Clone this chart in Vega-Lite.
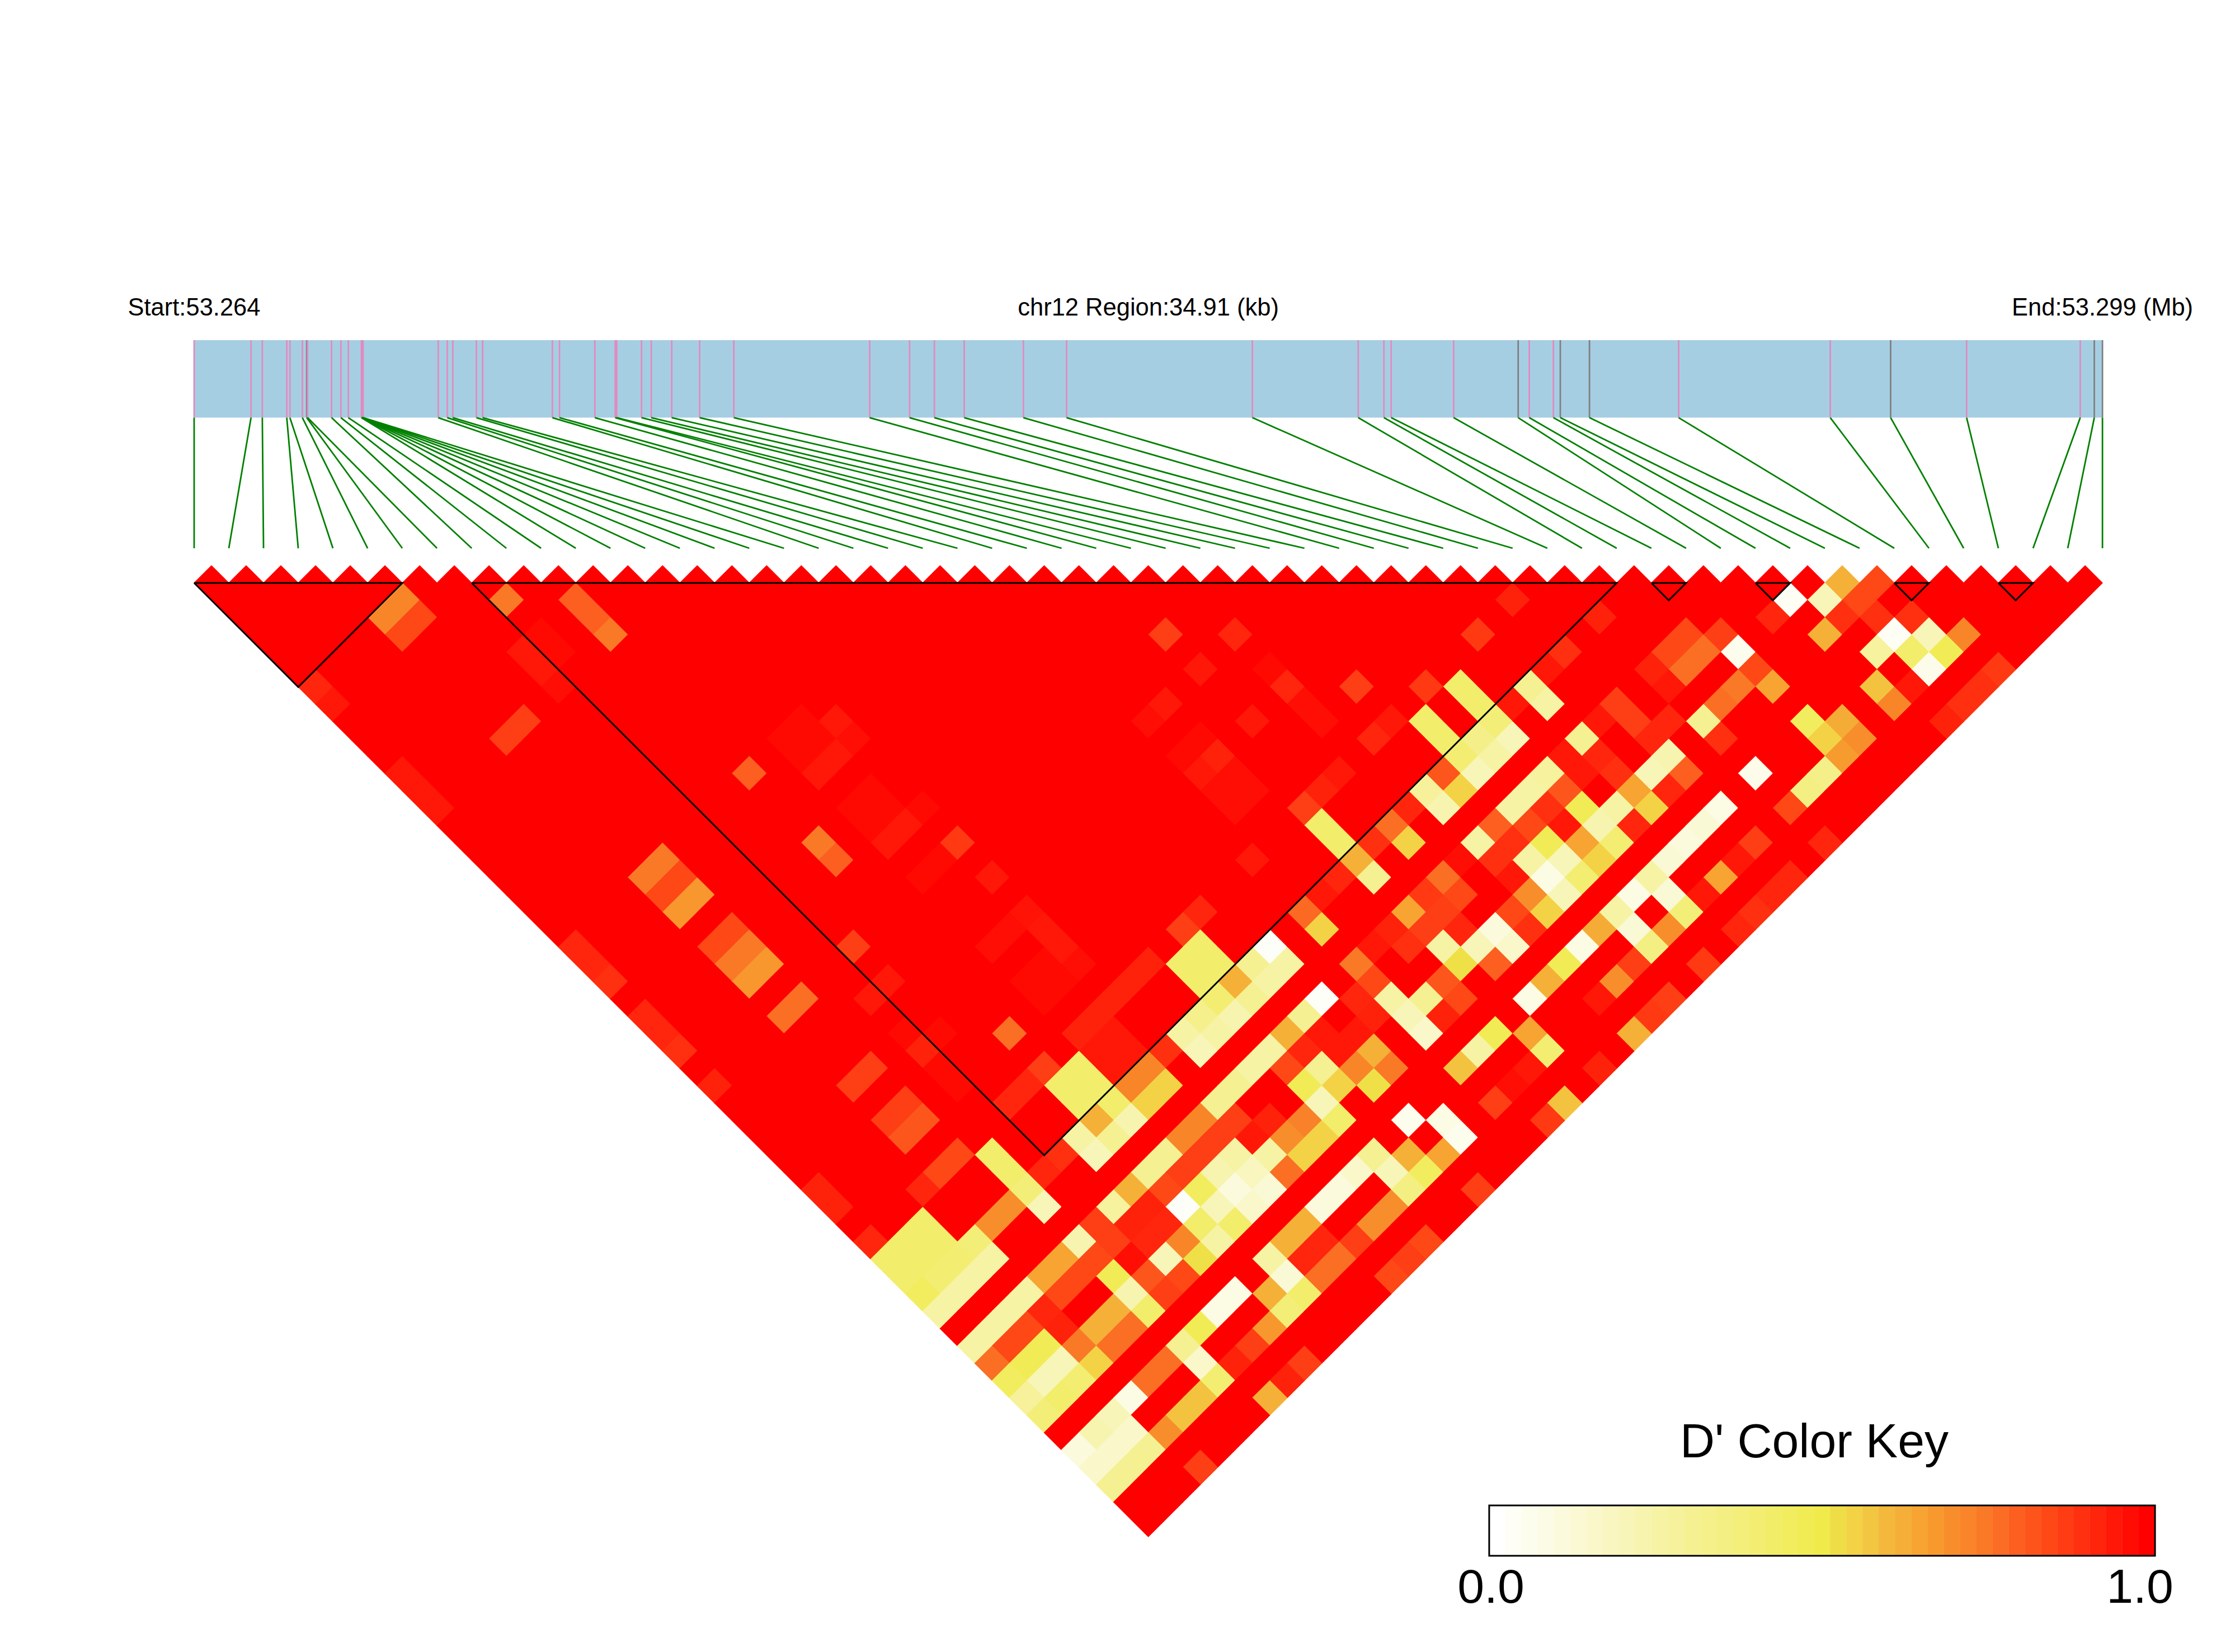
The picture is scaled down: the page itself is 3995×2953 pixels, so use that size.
{"$schema":"https://vega.github.io/schema/vega-lite/v6.json","width":3995,"height":2953,"padding":0,"autosize":{"type":"none"},"background":"white","config":{"view":{"stroke":null}},
"datasets":{"snps":[{"s":0,"p":0,"g":"p"},{"s":2,"p":3.28,"g":"p"},{"s":4,"p":3.93,"g":"p"},{"s":6,"p":5.34,"g":"p"},{"s":8,"p":5.52,"g":"p"},{"s":10,"p":6.24,"g":"p"},{"s":12,"p":6.49,"g":"g"},{"s":14,"p":6.54,"g":"p"},{"s":16,"p":7.92,"g":"p"},{"s":18,"p":8.46,"g":"p"},{"s":20,"p":8.89,"g":"p"},{"s":22,"p":9.64,"g":"p"},{"s":24,"p":9.66,"g":"p"},{"s":26,"p":9.67,"g":"p"},{"s":28,"p":9.69,"g":"p"},{"s":30,"p":9.71,"g":"p"},{"s":32,"p":9.72,"g":"p"},{"s":34,"p":9.74,"g":"p"},{"s":36,"p":14.07,"g":"p"},{"s":38,"p":14.59,"g":"p"},{"s":40,"p":14.91,"g":"p"},{"s":42,"p":16.27,"g":"p"},{"s":44,"p":16.63,"g":"p"},{"s":46,"p":20.65,"g":"p"},{"s":48,"p":21.06,"g":"p"},{"s":50,"p":23.1,"g":"p"},{"s":52,"p":24.27,"g":"p"},{"s":54,"p":24.36,"g":"p"},{"s":56,"p":25.79,"g":"p"},{"s":58,"p":26.35,"g":"p"},{"s":60,"p":27.53,"g":"p"},{"s":62,"p":29.14,"g":"p"},{"s":64,"p":31.11,"g":"p"},{"s":66,"p":38.94,"g":"p"},{"s":68,"p":41.24,"g":"p"},{"s":70,"p":42.67,"g":"p"},{"s":72,"p":44.39,"g":"p"},{"s":74,"p":47.8,"g":"p"},{"s":76,"p":50.29,"g":"p"},{"s":78,"p":61,"g":"p"},{"s":80,"p":67.1,"g":"p"},{"s":82,"p":68.58,"g":"p"},{"s":84,"p":69,"g":"p"},{"s":86,"p":72.6,"g":"p"},{"s":88,"p":76.32,"g":"g"},{"s":90,"p":76.96,"g":"p"},{"s":92,"p":78.35,"g":"p"},{"s":94,"p":78.75,"g":"g"},{"s":96,"p":80.43,"g":"g"},{"s":98,"p":85.57,"g":"p"},{"s":100,"p":94.31,"g":"p"},{"s":102,"p":97.79,"g":"g"},{"s":104,"p":102.17,"g":"p"},{"s":106,"p":108.72,"g":"p"},{"s":108,"p":109.53,"g":"g"},{"s":110,"p":110,"g":"g"}],
"cells":[
{"u":1,"k":1,"d":1},{"u":3,"k":1,"d":1},{"u":5,"k":1,"d":1},{"u":7,"k":1,"d":1},{"u":9,"k":1,"d":1},{"u":11,"k":1,"d":1},{"u":13,"k":1,"d":1},{"u":15,"k":1,"d":1},{"u":17,"k":1,"d":1},{"u":19,"k":1,"d":1},{"u":21,"k":1,"d":1},{"u":23,"k":1,"d":1},{"u":25,"k":1,"d":1},{"u":27,"k":1,"d":1},{"u":29,"k":1,"d":1},{"u":31,"k":1,"d":1},{"u":33,"k":1,"d":1},{"u":35,"k":1,"d":1},{"u":37,"k":1,"d":1},{"u":39,"k":1,"d":1},{"u":41,"k":1,"d":1},{"u":43,"k":1,"d":1},{"u":45,"k":1,"d":1},{"u":47,"k":1,"d":1},{"u":49,"k":1,"d":1},{"u":51,"k":1,"d":1},{"u":53,"k":1,"d":1},{"u":55,"k":1,"d":1},{"u":57,"k":1,"d":1},{"u":59,"k":1,"d":1},{"u":61,"k":1,"d":1},{"u":63,"k":1,"d":1},{"u":65,"k":1,"d":1},{"u":67,"k":1,"d":1},{"u":69,"k":1,"d":1},{"u":71,"k":1,"d":1},{"u":73,"k":1,"d":1},{"u":75,"k":1,"d":1},{"u":77,"k":1,"d":1},{"u":79,"k":1,"d":1},{"u":81,"k":1,"d":1},{"u":83,"k":1,"d":1},{"u":85,"k":1,"d":1},{"u":87,"k":1,"d":1},{"u":89,"k":1,"d":1},{"u":91,"k":1,"d":1},{"u":93,"k":1,"d":1},{"u":95,"k":1,"d":0.62},{"u":97,"k":1,"d":0.85},{"u":99,"k":1,"d":1},{"u":101,"k":1,"d":1},{"u":103,"k":1,"d":1},{"u":105,"k":1,"d":1},{"u":107,"k":1,"d":1},{"u":109,"k":1,"d":1},
{"u":2,"k":2,"d":1},{"u":4,"k":2,"d":1},{"u":6,"k":2,"d":1},{"u":8,"k":2,"d":1},{"u":10,"k":2,"d":1},{"u":12,"k":2,"d":0.72},{"u":14,"k":2,"d":1},{"u":16,"k":2,"d":1},{"u":18,"k":2,"d":0.75},{"u":20,"k":2,"d":1},{"u":22,"k":2,"d":0.8},{"u":24,"k":2,"d":1},{"u":26,"k":2,"d":1},{"u":28,"k":2,"d":1},{"u":30,"k":2,"d":1},{"u":32,"k":2,"d":1},{"u":34,"k":2,"d":1},{"u":36,"k":2,"d":1},{"u":38,"k":2,"d":1},{"u":40,"k":2,"d":1},{"u":42,"k":2,"d":1},{"u":44,"k":2,"d":1},{"u":46,"k":2,"d":1},{"u":48,"k":2,"d":1},{"u":50,"k":2,"d":1},{"u":52,"k":2,"d":1},{"u":54,"k":2,"d":1},{"u":56,"k":2,"d":1},{"u":58,"k":2,"d":1},{"u":60,"k":2,"d":1},{"u":62,"k":2,"d":1},{"u":64,"k":2,"d":1},{"u":66,"k":2,"d":1},{"u":68,"k":2,"d":1},{"u":70,"k":2,"d":1},{"u":72,"k":2,"d":1},{"u":74,"k":2,"d":1},{"u":76,"k":2,"d":0.93},{"u":78,"k":2,"d":1},{"u":80,"k":2,"d":1},{"u":82,"k":2,"d":1},{"u":84,"k":2,"d":1},{"u":86,"k":2,"d":1},{"u":88,"k":2,"d":1},{"u":90,"k":2,"d":1},{"u":92,"k":2,"d":0.03},{"u":94,"k":2,"d":0.2},{"u":96,"k":2,"d":0.85},{"u":98,"k":2,"d":1},{"u":100,"k":2,"d":1},{"u":102,"k":2,"d":1},{"u":104,"k":2,"d":1},{"u":106,"k":2,"d":1},{"u":108,"k":2,"d":1},
{"u":3,"k":3,"d":1},{"u":5,"k":3,"d":1},{"u":7,"k":3,"d":1},{"u":9,"k":3,"d":1},{"u":11,"k":3,"d":0.72},{"u":13,"k":3,"d":0.85},{"u":15,"k":3,"d":1},{"u":17,"k":3,"d":1},{"u":19,"k":3,"d":1},{"u":21,"k":3,"d":1},{"u":23,"k":3,"d":0.8},{"u":25,"k":3,"d":1},{"u":27,"k":3,"d":1},{"u":29,"k":3,"d":1},{"u":31,"k":3,"d":1},{"u":33,"k":3,"d":1},{"u":35,"k":3,"d":1},{"u":37,"k":3,"d":1},{"u":39,"k":3,"d":1},{"u":41,"k":3,"d":1},{"u":43,"k":3,"d":1},{"u":45,"k":3,"d":1},{"u":47,"k":3,"d":1},{"u":49,"k":3,"d":1},{"u":51,"k":3,"d":1},{"u":53,"k":3,"d":1},{"u":55,"k":3,"d":1},{"u":57,"k":3,"d":1},{"u":59,"k":3,"d":1},{"u":61,"k":3,"d":1},{"u":63,"k":3,"d":1},{"u":65,"k":3,"d":1},{"u":67,"k":3,"d":1},{"u":69,"k":3,"d":1},{"u":71,"k":3,"d":1},{"u":73,"k":3,"d":1},{"u":75,"k":3,"d":1},{"u":77,"k":3,"d":1},{"u":79,"k":3,"d":1},{"u":81,"k":3,"d":0.93},{"u":83,"k":3,"d":1},{"u":85,"k":3,"d":1},{"u":87,"k":3,"d":1},{"u":89,"k":3,"d":1},{"u":91,"k":3,"d":0.92},{"u":93,"k":3,"d":1},{"u":95,"k":3,"d":0.9},{"u":97,"k":3,"d":0.9},{"u":99,"k":3,"d":0.9},{"u":101,"k":3,"d":1},{"u":103,"k":3,"d":1},{"u":105,"k":3,"d":1},{"u":107,"k":3,"d":1},
{"u":4,"k":4,"d":1},{"u":6,"k":4,"d":1},{"u":8,"k":4,"d":1},{"u":10,"k":4,"d":1},{"u":12,"k":4,"d":0.85},{"u":14,"k":4,"d":1},{"u":16,"k":4,"d":1},{"u":18,"k":4,"d":1},{"u":20,"k":4,"d":0.98},{"u":22,"k":4,"d":1},{"u":24,"k":4,"d":0.75},{"u":26,"k":4,"d":1},{"u":28,"k":4,"d":1},{"u":30,"k":4,"d":1},{"u":32,"k":4,"d":1},{"u":34,"k":4,"d":1},{"u":36,"k":4,"d":1},{"u":38,"k":4,"d":1},{"u":40,"k":4,"d":1},{"u":42,"k":4,"d":1},{"u":44,"k":4,"d":1},{"u":46,"k":4,"d":1},{"u":48,"k":4,"d":1},{"u":50,"k":4,"d":1},{"u":52,"k":4,"d":1},{"u":54,"k":4,"d":1},{"u":56,"k":4,"d":0.87},{"u":58,"k":4,"d":1},{"u":60,"k":4,"d":0.92},{"u":62,"k":4,"d":1},{"u":64,"k":4,"d":1},{"u":66,"k":4,"d":1},{"u":68,"k":4,"d":1},{"u":70,"k":4,"d":1},{"u":72,"k":4,"d":1},{"u":74,"k":4,"d":0.88},{"u":76,"k":4,"d":1},{"u":78,"k":4,"d":1},{"u":80,"k":4,"d":1},{"u":82,"k":4,"d":1},{"u":84,"k":4,"d":1},{"u":86,"k":4,"d":0.85},{"u":88,"k":4,"d":0.87},{"u":90,"k":4,"d":1},{"u":92,"k":4,"d":1},{"u":94,"k":4,"d":0.62},{"u":96,"k":4,"d":1},{"u":98,"k":4,"d":0.03},{"u":100,"k":4,"d":0.2},{"u":102,"k":4,"d":0.72},{"u":104,"k":4,"d":1},{"u":106,"k":4,"d":1},
{"u":5,"k":5,"d":1},{"u":7,"k":5,"d":1},{"u":9,"k":5,"d":1},{"u":11,"k":5,"d":1},{"u":13,"k":5,"d":1},{"u":15,"k":5,"d":1},{"u":17,"k":5,"d":1},{"u":19,"k":5,"d":0.95},{"u":21,"k":5,"d":0.98},{"u":23,"k":5,"d":1},{"u":25,"k":5,"d":1},{"u":27,"k":5,"d":1},{"u":29,"k":5,"d":1},{"u":31,"k":5,"d":1},{"u":33,"k":5,"d":1},{"u":35,"k":5,"d":1},{"u":37,"k":5,"d":1},{"u":39,"k":5,"d":1},{"u":41,"k":5,"d":1},{"u":43,"k":5,"d":1},{"u":45,"k":5,"d":1},{"u":47,"k":5,"d":1},{"u":49,"k":5,"d":1},{"u":51,"k":5,"d":1},{"u":53,"k":5,"d":1},{"u":55,"k":5,"d":1},{"u":57,"k":5,"d":1},{"u":59,"k":5,"d":1},{"u":61,"k":5,"d":1},{"u":63,"k":5,"d":1},{"u":65,"k":5,"d":1},{"u":67,"k":5,"d":1},{"u":69,"k":5,"d":1},{"u":71,"k":5,"d":1},{"u":73,"k":5,"d":1},{"u":75,"k":5,"d":1},{"u":77,"k":5,"d":1},{"u":79,"k":5,"d":0.9},{"u":81,"k":5,"d":1},{"u":83,"k":5,"d":1},{"u":85,"k":5,"d":0.85},{"u":87,"k":5,"d":0.77},{"u":89,"k":5,"d":0.05},{"u":91,"k":5,"d":1},{"u":93,"k":5,"d":1},{"u":95,"k":5,"d":1},{"u":97,"k":5,"d":0.27},{"u":99,"k":5,"d":0.42},{"u":101,"k":5,"d":0.47},{"u":103,"k":5,"d":1},{"u":105,"k":5,"d":1},
{"u":6,"k":6,"d":1},{"u":8,"k":6,"d":1},{"u":10,"k":6,"d":1},{"u":12,"k":6,"d":1},{"u":14,"k":6,"d":1},{"u":16,"k":6,"d":1},{"u":18,"k":6,"d":1},{"u":20,"k":6,"d":0.95},{"u":22,"k":6,"d":1},{"u":24,"k":6,"d":1},{"u":26,"k":6,"d":1},{"u":28,"k":6,"d":1},{"u":30,"k":6,"d":1},{"u":32,"k":6,"d":1},{"u":34,"k":6,"d":1},{"u":36,"k":6,"d":1},{"u":38,"k":6,"d":1},{"u":40,"k":6,"d":1},{"u":42,"k":6,"d":1},{"u":44,"k":6,"d":1},{"u":46,"k":6,"d":1},{"u":48,"k":6,"d":1},{"u":50,"k":6,"d":1},{"u":52,"k":6,"d":1},{"u":54,"k":6,"d":1},{"u":56,"k":6,"d":1},{"u":58,"k":6,"d":0.95},{"u":60,"k":6,"d":1},{"u":62,"k":6,"d":0.98},{"u":64,"k":6,"d":1},{"u":66,"k":6,"d":1},{"u":68,"k":6,"d":1},{"u":70,"k":6,"d":1},{"u":72,"k":6,"d":1},{"u":74,"k":6,"d":1},{"u":76,"k":6,"d":1},{"u":78,"k":6,"d":0.95},{"u":80,"k":6,"d":1},{"u":82,"k":6,"d":1},{"u":84,"k":6,"d":0.93},{"u":86,"k":6,"d":0.77},{"u":88,"k":6,"d":1},{"u":90,"k":6,"d":0.85},{"u":92,"k":6,"d":1},{"u":94,"k":6,"d":1},{"u":96,"k":6,"d":1},{"u":98,"k":6,"d":1},{"u":100,"k":6,"d":0.06},{"u":102,"k":6,"d":1},{"u":104,"k":6,"d":0.88},
{"u":7,"k":7,"d":0.92},{"u":9,"k":7,"d":1},{"u":11,"k":7,"d":1},{"u":13,"k":7,"d":1},{"u":15,"k":7,"d":1},{"u":17,"k":7,"d":1},{"u":19,"k":7,"d":1},{"u":21,"k":7,"d":0.97},{"u":23,"k":7,"d":1},{"u":25,"k":7,"d":1},{"u":27,"k":7,"d":1},{"u":29,"k":7,"d":1},{"u":31,"k":7,"d":1},{"u":33,"k":7,"d":1},{"u":35,"k":7,"d":1},{"u":37,"k":7,"d":1},{"u":39,"k":7,"d":1},{"u":41,"k":7,"d":1},{"u":43,"k":7,"d":1},{"u":45,"k":7,"d":1},{"u":47,"k":7,"d":1},{"u":49,"k":7,"d":1},{"u":51,"k":7,"d":1},{"u":53,"k":7,"d":1},{"u":55,"k":7,"d":1},{"u":57,"k":7,"d":1},{"u":59,"k":7,"d":1},{"u":61,"k":7,"d":1},{"u":63,"k":7,"d":0.92},{"u":65,"k":7,"d":1},{"u":67,"k":7,"d":0.87},{"u":69,"k":7,"d":1},{"u":71,"k":7,"d":0.88},{"u":73,"k":7,"d":0.42},{"u":75,"k":7,"d":1},{"u":77,"k":7,"d":0.3},{"u":79,"k":7,"d":1},{"u":81,"k":7,"d":1},{"u":83,"k":7,"d":1},{"u":85,"k":7,"d":0.95},{"u":87,"k":7,"d":1},{"u":89,"k":7,"d":0.75},{"u":91,"k":7,"d":0.65},{"u":93,"k":7,"d":1},{"u":95,"k":7,"d":1},{"u":97,"k":7,"d":0.58},{"u":99,"k":7,"d":0.95},{"u":101,"k":7,"d":1},{"u":103,"k":7,"d":0.9},
{"u":8,"k":8,"d":0.95},{"u":10,"k":8,"d":1},{"u":12,"k":8,"d":1},{"u":14,"k":8,"d":1},{"u":16,"k":8,"d":1},{"u":18,"k":8,"d":1},{"u":20,"k":8,"d":1},{"u":22,"k":8,"d":1},{"u":24,"k":8,"d":1},{"u":26,"k":8,"d":1},{"u":28,"k":8,"d":1},{"u":30,"k":8,"d":1},{"u":32,"k":8,"d":1},{"u":34,"k":8,"d":1},{"u":36,"k":8,"d":1},{"u":38,"k":8,"d":1},{"u":40,"k":8,"d":1},{"u":42,"k":8,"d":1},{"u":44,"k":8,"d":1},{"u":46,"k":8,"d":1},{"u":48,"k":8,"d":1},{"u":50,"k":8,"d":1},{"u":52,"k":8,"d":1},{"u":54,"k":8,"d":1},{"u":56,"k":8,"d":0.95},{"u":58,"k":8,"d":1},{"u":60,"k":8,"d":1},{"u":62,"k":8,"d":1},{"u":64,"k":8,"d":0.97},{"u":66,"k":8,"d":1},{"u":68,"k":8,"d":1},{"u":70,"k":8,"d":1},{"u":72,"k":8,"d":1},{"u":74,"k":8,"d":0.42},{"u":76,"k":8,"d":0.95},{"u":78,"k":8,"d":0.25},{"u":80,"k":8,"d":1},{"u":82,"k":8,"d":0.87},{"u":84,"k":8,"d":1},{"u":86,"k":8,"d":1},{"u":88,"k":8,"d":0.77},{"u":90,"k":8,"d":1},{"u":92,"k":8,"d":1},{"u":94,"k":8,"d":1},{"u":96,"k":8,"d":1},{"u":98,"k":8,"d":0.72},{"u":100,"k":8,"d":1},{"u":102,"k":8,"d":0.9},
{"u":9,"k":9,"d":1},{"u":11,"k":9,"d":1},{"u":13,"k":9,"d":1},{"u":15,"k":9,"d":1},{"u":17,"k":9,"d":1},{"u":19,"k":9,"d":0.87},{"u":21,"k":9,"d":1},{"u":23,"k":9,"d":1},{"u":25,"k":9,"d":1},{"u":27,"k":9,"d":1},{"u":29,"k":9,"d":1},{"u":31,"k":9,"d":1},{"u":33,"k":9,"d":1},{"u":35,"k":9,"d":0.98},{"u":37,"k":9,"d":0.95},{"u":39,"k":9,"d":1},{"u":41,"k":9,"d":1},{"u":43,"k":9,"d":1},{"u":45,"k":9,"d":1},{"u":47,"k":9,"d":1},{"u":49,"k":9,"d":1},{"u":51,"k":9,"d":1},{"u":53,"k":9,"d":1},{"u":55,"k":9,"d":0.97},{"u":57,"k":9,"d":1},{"u":59,"k":9,"d":1},{"u":61,"k":9,"d":0.95},{"u":63,"k":9,"d":1},{"u":65,"k":9,"d":0.97},{"u":67,"k":9,"d":1},{"u":69,"k":9,"d":0.95},{"u":71,"k":9,"d":0.42},{"u":73,"k":9,"d":1},{"u":75,"k":9,"d":0.38},{"u":77,"k":9,"d":1},{"u":79,"k":9,"d":1},{"u":81,"k":9,"d":0.95},{"u":83,"k":9,"d":0.87},{"u":85,"k":9,"d":0.92},{"u":87,"k":9,"d":0.3},{"u":89,"k":9,"d":1},{"u":91,"k":9,"d":1},{"u":93,"k":9,"d":0.45},{"u":95,"k":9,"d":0.63},{"u":97,"k":9,"d":1},{"u":99,"k":9,"d":1},{"u":101,"k":9,"d":0.93},
{"u":10,"k":10,"d":1},{"u":12,"k":10,"d":1},{"u":14,"k":10,"d":1},{"u":16,"k":10,"d":1},{"u":18,"k":10,"d":0.87},{"u":20,"k":10,"d":1},{"u":22,"k":10,"d":1},{"u":24,"k":10,"d":1},{"u":26,"k":10,"d":1},{"u":28,"k":10,"d":1},{"u":30,"k":10,"d":1},{"u":32,"k":10,"d":1},{"u":34,"k":10,"d":0.98},{"u":36,"k":10,"d":0.98},{"u":38,"k":10,"d":0.97},{"u":40,"k":10,"d":1},{"u":42,"k":10,"d":1},{"u":44,"k":10,"d":1},{"u":46,"k":10,"d":1},{"u":48,"k":10,"d":1},{"u":50,"k":10,"d":1},{"u":52,"k":10,"d":1},{"u":54,"k":10,"d":1},{"u":56,"k":10,"d":1},{"u":58,"k":10,"d":0.98},{"u":60,"k":10,"d":1},{"u":62,"k":10,"d":1},{"u":64,"k":10,"d":1},{"u":66,"k":10,"d":1},{"u":68,"k":10,"d":0.92},{"u":70,"k":10,"d":1},{"u":72,"k":10,"d":0.42},{"u":74,"k":10,"d":0.33},{"u":76,"k":10,"d":0.2},{"u":78,"k":10,"d":1},{"u":80,"k":10,"d":0.3},{"u":82,"k":10,"d":1},{"u":84,"k":10,"d":0.92},{"u":86,"k":10,"d":1},{"u":88,"k":10,"d":0.9},{"u":90,"k":10,"d":1},{"u":92,"k":10,"d":1},{"u":94,"k":10,"d":0.55},{"u":96,"k":10,"d":0.7},{"u":98,"k":10,"d":1},{"u":100,"k":10,"d":1},
{"u":11,"k":11,"d":1},{"u":13,"k":11,"d":1},{"u":15,"k":11,"d":1},{"u":17,"k":11,"d":1},{"u":19,"k":11,"d":1},{"u":21,"k":11,"d":1},{"u":23,"k":11,"d":1},{"u":25,"k":11,"d":1},{"u":27,"k":11,"d":1},{"u":29,"k":11,"d":1},{"u":31,"k":11,"d":1},{"u":33,"k":11,"d":1},{"u":35,"k":11,"d":0.98},{"u":37,"k":11,"d":0.95},{"u":39,"k":11,"d":1},{"u":41,"k":11,"d":1},{"u":43,"k":11,"d":1},{"u":45,"k":11,"d":1},{"u":47,"k":11,"d":1},{"u":49,"k":11,"d":1},{"u":51,"k":11,"d":1},{"u":53,"k":11,"d":1},{"u":55,"k":11,"d":1},{"u":57,"k":11,"d":0.98},{"u":59,"k":11,"d":0.93},{"u":61,"k":11,"d":1},{"u":63,"k":11,"d":1},{"u":65,"k":11,"d":1},{"u":67,"k":11,"d":1},{"u":69,"k":11,"d":1},{"u":71,"k":11,"d":1},{"u":73,"k":11,"d":0.4},{"u":75,"k":11,"d":0.25},{"u":77,"k":11,"d":1},{"u":79,"k":11,"d":0.95},{"u":81,"k":11,"d":0.92},{"u":83,"k":11,"d":1},{"u":85,"k":11,"d":0.22},{"u":87,"k":11,"d":1},{"u":89,"k":11,"d":1},{"u":91,"k":11,"d":1},{"u":93,"k":11,"d":1},{"u":95,"k":11,"d":0.67},{"u":97,"k":11,"d":1},{"u":99,"k":11,"d":1},
{"u":12,"k":12,"d":0.95},{"u":14,"k":12,"d":1},{"u":16,"k":12,"d":1},{"u":18,"k":12,"d":1},{"u":20,"k":12,"d":1},{"u":22,"k":12,"d":1},{"u":24,"k":12,"d":1},{"u":26,"k":12,"d":1},{"u":28,"k":12,"d":1},{"u":30,"k":12,"d":1},{"u":32,"k":12,"d":0.8},{"u":34,"k":12,"d":1},{"u":36,"k":12,"d":0.95},{"u":38,"k":12,"d":1},{"u":40,"k":12,"d":1},{"u":42,"k":12,"d":1},{"u":44,"k":12,"d":1},{"u":46,"k":12,"d":1},{"u":48,"k":12,"d":1},{"u":50,"k":12,"d":1},{"u":52,"k":12,"d":1},{"u":54,"k":12,"d":1},{"u":56,"k":12,"d":1},{"u":58,"k":12,"d":0.95},{"u":60,"k":12,"d":0.97},{"u":62,"k":12,"d":1},{"u":64,"k":12,"d":1},{"u":66,"k":12,"d":0.95},{"u":68,"k":12,"d":1},{"u":70,"k":12,"d":1},{"u":72,"k":12,"d":0.82},{"u":74,"k":12,"d":0.2},{"u":76,"k":12,"d":1},{"u":78,"k":12,"d":0.27},{"u":80,"k":12,"d":0.95},{"u":82,"k":12,"d":0.9},{"u":84,"k":12,"d":0.2},{"u":86,"k":12,"d":0.8},{"u":88,"k":12,"d":1},{"u":90,"k":12,"d":0.06},{"u":92,"k":12,"d":1},{"u":94,"k":12,"d":0.33},{"u":96,"k":12,"d":1},{"u":98,"k":12,"d":1},
{"u":13,"k":13,"d":0.95},{"u":15,"k":13,"d":1},{"u":17,"k":13,"d":1},{"u":19,"k":13,"d":1},{"u":21,"k":13,"d":1},{"u":23,"k":13,"d":1},{"u":25,"k":13,"d":1},{"u":27,"k":13,"d":1},{"u":29,"k":13,"d":1},{"u":31,"k":13,"d":1},{"u":33,"k":13,"d":1},{"u":35,"k":13,"d":1},{"u":37,"k":13,"d":1},{"u":39,"k":13,"d":0.98},{"u":41,"k":13,"d":1},{"u":43,"k":13,"d":1},{"u":45,"k":13,"d":1},{"u":47,"k":13,"d":1},{"u":49,"k":13,"d":1},{"u":51,"k":13,"d":1},{"u":53,"k":13,"d":1},{"u":55,"k":13,"d":1},{"u":57,"k":13,"d":1},{"u":59,"k":13,"d":0.97},{"u":61,"k":13,"d":0.97},{"u":63,"k":13,"d":1},{"u":65,"k":13,"d":0.93},{"u":67,"k":13,"d":1},{"u":69,"k":13,"d":1},{"u":71,"k":13,"d":0.28},{"u":73,"k":13,"d":0.55},{"u":75,"k":13,"d":1},{"u":77,"k":13,"d":0.25},{"u":79,"k":13,"d":0.82},{"u":81,"k":13,"d":1},{"u":83,"k":13,"d":0.65},{"u":85,"k":13,"d":0.92},{"u":87,"k":13,"d":1},{"u":89,"k":13,"d":1},{"u":91,"k":13,"d":1},{"u":93,"k":13,"d":0.35},{"u":95,"k":13,"d":1},{"u":97,"k":13,"d":1},
{"u":14,"k":14,"d":0.95},{"u":16,"k":14,"d":1},{"u":18,"k":14,"d":1},{"u":20,"k":14,"d":1},{"u":22,"k":14,"d":1},{"u":24,"k":14,"d":1},{"u":26,"k":14,"d":1},{"u":28,"k":14,"d":1},{"u":30,"k":14,"d":1},{"u":32,"k":14,"d":1},{"u":34,"k":14,"d":1},{"u":36,"k":14,"d":1},{"u":38,"k":14,"d":0.98},{"u":40,"k":14,"d":0.98},{"u":42,"k":14,"d":0.98},{"u":44,"k":14,"d":1},{"u":46,"k":14,"d":1},{"u":48,"k":14,"d":1},{"u":50,"k":14,"d":1},{"u":52,"k":14,"d":1},{"u":54,"k":14,"d":1},{"u":56,"k":14,"d":1},{"u":58,"k":14,"d":1},{"u":60,"k":14,"d":0.97},{"u":62,"k":14,"d":1},{"u":64,"k":14,"d":0.87},{"u":66,"k":14,"d":1},{"u":68,"k":14,"d":1},{"u":70,"k":14,"d":0.92},{"u":72,"k":14,"d":0.22},{"u":74,"k":14,"d":1},{"u":76,"k":14,"d":0.25},{"u":78,"k":14,"d":0.9},{"u":80,"k":14,"d":0.47},{"u":82,"k":14,"d":0.25},{"u":84,"k":14,"d":0.55},{"u":86,"k":14,"d":1},{"u":88,"k":14,"d":0.08},{"u":90,"k":14,"d":1},{"u":92,"k":14,"d":0.85},{"u":94,"k":14,"d":1},{"u":96,"k":14,"d":1},
{"u":15,"k":15,"d":1},{"u":17,"k":15,"d":1},{"u":19,"k":15,"d":1},{"u":21,"k":15,"d":1},{"u":23,"k":15,"d":1},{"u":25,"k":15,"d":1},{"u":27,"k":15,"d":1},{"u":29,"k":15,"d":1},{"u":31,"k":15,"d":1},{"u":33,"k":15,"d":1},{"u":35,"k":15,"d":1},{"u":37,"k":15,"d":1},{"u":39,"k":15,"d":0.98},{"u":41,"k":15,"d":0.95},{"u":43,"k":15,"d":1},{"u":45,"k":15,"d":1},{"u":47,"k":15,"d":1},{"u":49,"k":15,"d":1},{"u":51,"k":15,"d":1},{"u":53,"k":15,"d":1},{"u":55,"k":15,"d":1},{"u":57,"k":15,"d":1},{"u":59,"k":15,"d":1},{"u":61,"k":15,"d":1},{"u":63,"k":15,"d":1},{"u":65,"k":15,"d":0.42},{"u":67,"k":15,"d":1},{"u":69,"k":15,"d":0.77},{"u":71,"k":15,"d":1},{"u":73,"k":15,"d":1},{"u":75,"k":15,"d":0.8},{"u":77,"k":15,"d":0.85},{"u":79,"k":15,"d":0.95},{"u":81,"k":15,"d":0.22},{"u":83,"k":15,"d":0.92},{"u":85,"k":15,"d":1},{"u":87,"k":15,"d":0.12},{"u":89,"k":15,"d":1},{"u":91,"k":15,"d":1},{"u":93,"k":15,"d":1},{"u":95,"k":15,"d":1},
{"u":16,"k":16,"d":1},{"u":18,"k":16,"d":1},{"u":20,"k":16,"d":1},{"u":22,"k":16,"d":1},{"u":24,"k":16,"d":1},{"u":26,"k":16,"d":1},{"u":28,"k":16,"d":1},{"u":30,"k":16,"d":1},{"u":32,"k":16,"d":1},{"u":34,"k":16,"d":1},{"u":36,"k":16,"d":0.75},{"u":38,"k":16,"d":1},{"u":40,"k":16,"d":0.95},{"u":42,"k":16,"d":1},{"u":44,"k":16,"d":0.88},{"u":46,"k":16,"d":1},{"u":48,"k":16,"d":1},{"u":50,"k":16,"d":1},{"u":52,"k":16,"d":1},{"u":54,"k":16,"d":1},{"u":56,"k":16,"d":1},{"u":58,"k":16,"d":1},{"u":60,"k":16,"d":1},{"u":62,"k":16,"d":1},{"u":64,"k":16,"d":1},{"u":66,"k":16,"d":0.42},{"u":68,"k":16,"d":0.9},{"u":70,"k":16,"d":0.55},{"u":72,"k":16,"d":1},{"u":74,"k":16,"d":0.25},{"u":76,"k":16,"d":0.9},{"u":78,"k":16,"d":0.47},{"u":80,"k":16,"d":0.65},{"u":82,"k":16,"d":0.4},{"u":84,"k":16,"d":1},{"u":86,"k":16,"d":0.1},{"u":88,"k":16,"d":1},{"u":90,"k":16,"d":0.87},{"u":92,"k":16,"d":1},{"u":94,"k":16,"d":0.92},
{"u":17,"k":17,"d":1},{"u":19,"k":17,"d":1},{"u":21,"k":17,"d":1},{"u":23,"k":17,"d":1},{"u":25,"k":17,"d":1},{"u":27,"k":17,"d":0.75},{"u":29,"k":17,"d":1},{"u":31,"k":17,"d":1},{"u":33,"k":17,"d":1},{"u":35,"k":17,"d":1},{"u":37,"k":17,"d":0.8},{"u":39,"k":17,"d":1},{"u":41,"k":17,"d":1},{"u":43,"k":17,"d":0.98},{"u":45,"k":17,"d":1},{"u":47,"k":17,"d":1},{"u":49,"k":17,"d":1},{"u":51,"k":17,"d":1},{"u":53,"k":17,"d":1},{"u":55,"k":17,"d":1},{"u":57,"k":17,"d":1},{"u":59,"k":17,"d":1},{"u":61,"k":17,"d":0.95},{"u":63,"k":17,"d":1},{"u":65,"k":17,"d":1},{"u":67,"k":17,"d":0.62},{"u":69,"k":17,"d":1},{"u":71,"k":17,"d":1},{"u":73,"k":17,"d":0.97},{"u":75,"k":17,"d":0.9},{"u":77,"k":17,"d":0.25},{"u":79,"k":17,"d":0.2},{"u":81,"k":17,"d":0.55},{"u":83,"k":17,"d":1},{"u":85,"k":17,"d":0.12},{"u":87,"k":17,"d":1},{"u":89,"k":17,"d":0.95},{"u":91,"k":17,"d":1},{"u":93,"k":17,"d":1},
{"u":18,"k":18,"d":1},{"u":20,"k":18,"d":1},{"u":22,"k":18,"d":1},{"u":24,"k":18,"d":1},{"u":26,"k":18,"d":0.75},{"u":28,"k":18,"d":0.85},{"u":30,"k":18,"d":1},{"u":32,"k":18,"d":1},{"u":34,"k":18,"d":1},{"u":36,"k":18,"d":1},{"u":38,"k":18,"d":1},{"u":40,"k":18,"d":1},{"u":42,"k":18,"d":0.98},{"u":44,"k":18,"d":1},{"u":46,"k":18,"d":0.95},{"u":48,"k":18,"d":1},{"u":50,"k":18,"d":1},{"u":52,"k":18,"d":1},{"u":54,"k":18,"d":1},{"u":56,"k":18,"d":1},{"u":58,"k":18,"d":1},{"u":60,"k":18,"d":1},{"u":62,"k":18,"d":1},{"u":64,"k":18,"d":1},{"u":66,"k":18,"d":0.92},{"u":68,"k":18,"d":0.3},{"u":70,"k":18,"d":1},{"u":72,"k":18,"d":0.77},{"u":74,"k":18,"d":1},{"u":76,"k":18,"d":0.95},{"u":78,"k":18,"d":0.08},{"u":80,"k":18,"d":0.4},{"u":82,"k":18,"d":1},{"u":84,"k":18,"d":0.25},{"u":86,"k":18,"d":1},{"u":88,"k":18,"d":0.65},{"u":90,"k":18,"d":1},{"u":92,"k":18,"d":0.92},
{"u":19,"k":19,"d":1},{"u":21,"k":19,"d":1},{"u":23,"k":19,"d":1},{"u":25,"k":19,"d":1},{"u":27,"k":19,"d":0.85},{"u":29,"k":19,"d":0.68},{"u":31,"k":19,"d":1},{"u":33,"k":19,"d":1},{"u":35,"k":19,"d":1},{"u":37,"k":19,"d":1},{"u":39,"k":19,"d":1},{"u":41,"k":19,"d":1},{"u":43,"k":19,"d":1},{"u":45,"k":19,"d":1},{"u":47,"k":19,"d":1},{"u":49,"k":19,"d":1},{"u":51,"k":19,"d":1},{"u":53,"k":19,"d":1},{"u":55,"k":19,"d":1},{"u":57,"k":19,"d":1},{"u":59,"k":19,"d":1},{"u":61,"k":19,"d":1},{"u":63,"k":19,"d":1},{"u":65,"k":19,"d":0.95},{"u":67,"k":19,"d":1},{"u":69,"k":19,"d":1},{"u":71,"k":19,"d":0.88},{"u":73,"k":19,"d":0.85},{"u":75,"k":19,"d":1},{"u":77,"k":19,"d":0.7},{"u":79,"k":19,"d":0.2},{"u":81,"k":19,"d":1},{"u":83,"k":19,"d":0.08},{"u":85,"k":19,"d":0.12},{"u":87,"k":19,"d":0.95},{"u":89,"k":19,"d":1},{"u":91,"k":19,"d":0.92},
{"u":20,"k":20,"d":1},{"u":22,"k":20,"d":1},{"u":24,"k":20,"d":1},{"u":26,"k":20,"d":1},{"u":28,"k":20,"d":0.68},{"u":30,"k":20,"d":1},{"u":32,"k":20,"d":1},{"u":34,"k":20,"d":1},{"u":36,"k":20,"d":1},{"u":38,"k":20,"d":1},{"u":40,"k":20,"d":1},{"u":42,"k":20,"d":1},{"u":44,"k":20,"d":1},{"u":46,"k":20,"d":1},{"u":48,"k":20,"d":0.96},{"u":50,"k":20,"d":1},{"u":52,"k":20,"d":1},{"u":54,"k":20,"d":1},{"u":56,"k":20,"d":1},{"u":58,"k":20,"d":0.92},{"u":60,"k":20,"d":1},{"u":62,"k":20,"d":1},{"u":64,"k":20,"d":0.78},{"u":66,"k":20,"d":1},{"u":68,"k":20,"d":1},{"u":70,"k":20,"d":0.65},{"u":72,"k":20,"d":0.87},{"u":74,"k":20,"d":1},{"u":76,"k":20,"d":0.85},{"u":78,"k":20,"d":0.55},{"u":80,"k":20,"d":1},{"u":82,"k":20,"d":0.25},{"u":84,"k":20,"d":1},{"u":86,"k":20,"d":0.38},{"u":88,"k":20,"d":1},{"u":90,"k":20,"d":0.9},
{"u":21,"k":21,"d":1},{"u":23,"k":21,"d":1},{"u":25,"k":21,"d":1},{"u":27,"k":21,"d":1},{"u":29,"k":21,"d":1},{"u":31,"k":21,"d":0.85},{"u":33,"k":21,"d":1},{"u":35,"k":21,"d":1},{"u":37,"k":21,"d":1},{"u":39,"k":21,"d":1},{"u":41,"k":21,"d":1},{"u":43,"k":21,"d":1},{"u":45,"k":21,"d":1},{"u":47,"k":21,"d":0.97},{"u":49,"k":21,"d":0.95},{"u":51,"k":21,"d":1},{"u":53,"k":21,"d":1},{"u":55,"k":21,"d":1},{"u":57,"k":21,"d":0.87},{"u":59,"k":21,"d":1},{"u":61,"k":21,"d":1},{"u":63,"k":21,"d":1},{"u":65,"k":21,"d":0.55},{"u":67,"k":21,"d":1},{"u":69,"k":21,"d":0.93},{"u":71,"k":21,"d":0.87},{"u":73,"k":21,"d":0.92},{"u":75,"k":21,"d":0.1},{"u":77,"k":21,"d":0.9},{"u":79,"k":21,"d":1},{"u":81,"k":21,"d":0.63},{"u":83,"k":21,"d":0.12},{"u":85,"k":21,"d":0.7},{"u":87,"k":21,"d":1},{"u":89,"k":21,"d":0.92},
{"u":22,"k":22,"d":0.92},{"u":24,"k":22,"d":1},{"u":26,"k":22,"d":1},{"u":28,"k":22,"d":1},{"u":30,"k":22,"d":0.85},{"u":32,"k":22,"d":0.75},{"u":34,"k":22,"d":1},{"u":36,"k":22,"d":1},{"u":38,"k":22,"d":0.87},{"u":40,"k":22,"d":1},{"u":42,"k":22,"d":1},{"u":44,"k":22,"d":1},{"u":46,"k":22,"d":0.97},{"u":48,"k":22,"d":1},{"u":50,"k":22,"d":0.95},{"u":52,"k":22,"d":1},{"u":54,"k":22,"d":1},{"u":56,"k":22,"d":1},{"u":58,"k":22,"d":0.42},{"u":60,"k":22,"d":1},{"u":62,"k":22,"d":0.02},{"u":64,"k":22,"d":1},{"u":66,"k":22,"d":1},{"u":68,"k":22,"d":0.95},{"u":70,"k":22,"d":0.9},{"u":72,"k":22,"d":0.25},{"u":74,"k":22,"d":0.2},{"u":76,"k":22,"d":0.15},{"u":78,"k":22,"d":1},{"u":80,"k":22,"d":0.08},{"u":82,"k":22,"d":1},{"u":84,"k":22,"d":0.35},{"u":86,"k":22,"d":1},{"u":88,"k":22,"d":1},
{"u":23,"k":23,"d":0.92},{"u":25,"k":23,"d":1},{"u":27,"k":23,"d":1},{"u":29,"k":23,"d":1},{"u":31,"k":23,"d":0.75},{"u":33,"k":23,"d":0.68},{"u":35,"k":23,"d":1},{"u":37,"k":23,"d":1},{"u":39,"k":23,"d":1},{"u":41,"k":23,"d":1},{"u":43,"k":23,"d":1},{"u":45,"k":23,"d":1},{"u":47,"k":23,"d":1},{"u":49,"k":23,"d":0.98},{"u":51,"k":23,"d":0.97},{"u":53,"k":23,"d":1},{"u":55,"k":23,"d":0.93},{"u":57,"k":23,"d":0.42},{"u":59,"k":23,"d":0.42},{"u":61,"k":23,"d":0.3},{"u":63,"k":23,"d":0.25},{"u":65,"k":23,"d":1},{"u":67,"k":23,"d":0.75},{"u":69,"k":23,"d":1},{"u":71,"k":23,"d":1},{"u":73,"k":23,"d":0.52},{"u":75,"k":23,"d":0.8},{"u":77,"k":23,"d":1},{"u":79,"k":23,"d":0.47},{"u":81,"k":23,"d":1},{"u":83,"k":23,"d":0.87},{"u":85,"k":23,"d":1},{"u":87,"k":23,"d":0.88},
{"u":24,"k":24,"d":0.9},{"u":26,"k":24,"d":1},{"u":28,"k":24,"d":1},{"u":30,"k":24,"d":1},{"u":32,"k":24,"d":0.68},{"u":34,"k":24,"d":1},{"u":36,"k":24,"d":1},{"u":38,"k":24,"d":1},{"u":40,"k":24,"d":0.95},{"u":42,"k":24,"d":1},{"u":44,"k":24,"d":1},{"u":46,"k":24,"d":1},{"u":48,"k":24,"d":0.98},{"u":50,"k":24,"d":0.98},{"u":52,"k":24,"d":1},{"u":54,"k":24,"d":0.93},{"u":56,"k":24,"d":1},{"u":58,"k":24,"d":0.42},{"u":60,"k":24,"d":0.62},{"u":62,"k":24,"d":0.25},{"u":64,"k":24,"d":1},{"u":66,"k":24,"d":1},{"u":68,"k":24,"d":0.85},{"u":70,"k":24,"d":1},{"u":72,"k":24,"d":0.82},{"u":74,"k":24,"d":1},{"u":76,"k":24,"d":1},{"u":78,"k":24,"d":0.62},{"u":80,"k":24,"d":1},{"u":82,"k":24,"d":0.7},{"u":84,"k":24,"d":1},{"u":86,"k":24,"d":1},
{"u":25,"k":25,"d":1},{"u":27,"k":25,"d":1},{"u":29,"k":25,"d":1},{"u":31,"k":25,"d":1},{"u":33,"k":25,"d":1},{"u":35,"k":25,"d":0.77},{"u":37,"k":25,"d":1},{"u":39,"k":25,"d":0.95},{"u":41,"k":25,"d":1},{"u":43,"k":25,"d":1},{"u":45,"k":25,"d":1},{"u":47,"k":25,"d":1},{"u":49,"k":25,"d":0.98},{"u":51,"k":25,"d":1},{"u":53,"k":25,"d":0.93},{"u":55,"k":25,"d":1},{"u":57,"k":25,"d":1},{"u":59,"k":25,"d":0.4},{"u":61,"k":25,"d":0.3},{"u":63,"k":25,"d":1},{"u":65,"k":25,"d":0.02},{"u":67,"k":25,"d":0.92},{"u":69,"k":25,"d":0.25},{"u":71,"k":25,"d":0.3},{"u":73,"k":25,"d":0.85},{"u":75,"k":25,"d":1},{"u":77,"k":25,"d":0.08},{"u":79,"k":25,"d":1},{"u":81,"k":25,"d":0.95},{"u":83,"k":25,"d":1},{"u":85,"k":25,"d":0.87},
{"u":26,"k":26,"d":0.92},{"u":28,"k":26,"d":1},{"u":30,"k":26,"d":1},{"u":32,"k":26,"d":1},{"u":34,"k":26,"d":0.77},{"u":36,"k":26,"d":1},{"u":38,"k":26,"d":1},{"u":40,"k":26,"d":1},{"u":42,"k":26,"d":1},{"u":44,"k":26,"d":1},{"u":46,"k":26,"d":1},{"u":48,"k":26,"d":1},{"u":50,"k":26,"d":1},{"u":52,"k":26,"d":0.93},{"u":54,"k":26,"d":1},{"u":56,"k":26,"d":1},{"u":58,"k":26,"d":0.32},{"u":60,"k":26,"d":0.22},{"u":62,"k":26,"d":1},{"u":64,"k":26,"d":0.3},{"u":66,"k":26,"d":1},{"u":68,"k":26,"d":0.93},{"u":70,"k":26,"d":0.2},{"u":72,"k":26,"d":0.93},{"u":74,"k":26,"d":1},{"u":76,"k":26,"d":1},{"u":78,"k":26,"d":1},{"u":80,"k":26,"d":1},{"u":82,"k":26,"d":1},{"u":84,"k":26,"d":0.88},
{"u":27,"k":27,"d":0.92},{"u":29,"k":27,"d":1},{"u":31,"k":27,"d":1},{"u":33,"k":27,"d":1},{"u":35,"k":27,"d":1},{"u":37,"k":27,"d":1},{"u":39,"k":27,"d":1},{"u":41,"k":27,"d":0.98},{"u":43,"k":27,"d":0.98},{"u":45,"k":27,"d":1},{"u":47,"k":27,"d":0.77},{"u":49,"k":27,"d":1},{"u":51,"k":27,"d":0.93},{"u":53,"k":27,"d":0.95},{"u":55,"k":27,"d":1},{"u":57,"k":27,"d":0.25},{"u":59,"k":27,"d":0.25},{"u":61,"k":27,"d":1},{"u":63,"k":27,"d":0.62},{"u":65,"k":27,"d":0.95},{"u":67,"k":27,"d":0.95},{"u":69,"k":27,"d":1},{"u":71,"k":27,"d":0.15},{"u":73,"k":27,"d":1},{"u":75,"k":27,"d":0.47},{"u":77,"k":27,"d":0.65},{"u":79,"k":27,"d":1},{"u":81,"k":27,"d":1},{"u":83,"k":27,"d":0.62},
{"u":28,"k":28,"d":0.9},{"u":30,"k":28,"d":1},{"u":32,"k":28,"d":1},{"u":34,"k":28,"d":1},{"u":36,"k":28,"d":1},{"u":38,"k":28,"d":1},{"u":40,"k":28,"d":1},{"u":42,"k":28,"d":0.93},{"u":44,"k":28,"d":1},{"u":46,"k":28,"d":1},{"u":48,"k":28,"d":1},{"u":50,"k":28,"d":1},{"u":52,"k":28,"d":0.95},{"u":54,"k":28,"d":0.95},{"u":56,"k":28,"d":0.9},{"u":58,"k":28,"d":0.2},{"u":60,"k":28,"d":1},{"u":62,"k":28,"d":0.25},{"u":64,"k":28,"d":0.92},{"u":66,"k":28,"d":0.95},{"u":68,"k":28,"d":0.62},{"u":70,"k":28,"d":1},{"u":72,"k":28,"d":1},{"u":74,"k":28,"d":0.25},{"u":76,"k":28,"d":1},{"u":78,"k":28,"d":0.4},{"u":80,"k":28,"d":1},{"u":82,"k":28,"d":1},
{"u":29,"k":29,"d":1},{"u":31,"k":29,"d":1},{"u":33,"k":29,"d":1},{"u":35,"k":29,"d":1},{"u":37,"k":29,"d":1},{"u":39,"k":29,"d":0.87},{"u":41,"k":29,"d":1},{"u":43,"k":29,"d":0.98},{"u":45,"k":29,"d":1},{"u":47,"k":29,"d":1},{"u":49,"k":29,"d":0.87},{"u":51,"k":29,"d":0.42},{"u":53,"k":29,"d":0.95},{"u":55,"k":29,"d":0.72},{"u":57,"k":29,"d":1},{"u":59,"k":29,"d":1},{"u":61,"k":29,"d":0.25},{"u":63,"k":29,"d":0.85},{"u":65,"k":29,"d":0.3},{"u":67,"k":29,"d":0.72},{"u":69,"k":29,"d":0.75},{"u":71,"k":29,"d":1},{"u":73,"k":29,"d":0.58},{"u":75,"k":29,"d":1},{"u":77,"k":29,"d":0.95},{"u":79,"k":29,"d":1},{"u":81,"k":29,"d":0.93},
{"u":30,"k":30,"d":0.93},{"u":32,"k":30,"d":1},{"u":34,"k":30,"d":1},{"u":36,"k":30,"d":1},{"u":38,"k":30,"d":0.87},{"u":40,"k":30,"d":1},{"u":42,"k":30,"d":1},{"u":44,"k":30,"d":0.98},{"u":46,"k":30,"d":1},{"u":48,"k":30,"d":0.92},{"u":50,"k":30,"d":0.42},{"u":52,"k":30,"d":0.42},{"u":54,"k":30,"d":0.72},{"u":56,"k":30,"d":0.55},{"u":58,"k":30,"d":1},{"u":60,"k":30,"d":0.3},{"u":62,"k":30,"d":1},{"u":64,"k":30,"d":0.47},{"u":66,"k":30,"d":0.55},{"u":68,"k":30,"d":0.52},{"u":70,"k":30,"d":1},{"u":72,"k":30,"d":1},{"u":74,"k":30,"d":1},{"u":76,"k":30,"d":0.97},{"u":78,"k":30,"d":1},{"u":80,"k":30,"d":1},
{"u":31,"k":31,"d":1},{"u":33,"k":31,"d":1},{"u":35,"k":31,"d":1},{"u":37,"k":31,"d":1},{"u":39,"k":31,"d":1},{"u":41,"k":31,"d":0.87},{"u":43,"k":31,"d":1},{"u":45,"k":31,"d":1},{"u":47,"k":31,"d":0.92},{"u":49,"k":31,"d":1},{"u":51,"k":31,"d":0.42},{"u":53,"k":31,"d":0.42},{"u":55,"k":31,"d":0.55},{"u":57,"k":31,"d":1},{"u":59,"k":31,"d":0.3},{"u":61,"k":31,"d":1},{"u":63,"k":31,"d":1},{"u":65,"k":31,"d":0.2},{"u":67,"k":31,"d":1},{"u":69,"k":31,"d":1},{"u":71,"k":31,"d":1},{"u":73,"k":31,"d":1},{"u":75,"k":31,"d":0.87},{"u":77,"k":31,"d":1},{"u":79,"k":31,"d":0.58},
{"u":32,"k":32,"d":1},{"u":34,"k":32,"d":1},{"u":36,"k":32,"d":1},{"u":38,"k":32,"d":1},{"u":40,"k":32,"d":0.87},{"u":42,"k":32,"d":0.82},{"u":44,"k":32,"d":1},{"u":46,"k":32,"d":1},{"u":48,"k":32,"d":1},{"u":50,"k":32,"d":1},{"u":52,"k":32,"d":0.62},{"u":54,"k":32,"d":0.22},{"u":56,"k":32,"d":1},{"u":58,"k":32,"d":0.72},{"u":60,"k":32,"d":0.87},{"u":62,"k":32,"d":0.93},{"u":64,"k":32,"d":0.73},{"u":66,"k":32,"d":0.42},{"u":68,"k":32,"d":1},{"u":70,"k":32,"d":0.05},{"u":72,"k":32,"d":0.08},{"u":74,"k":32,"d":1},{"u":76,"k":32,"d":1},{"u":78,"k":32,"d":0.88},
{"u":33,"k":33,"d":1},{"u":35,"k":33,"d":1},{"u":37,"k":33,"d":1},{"u":39,"k":33,"d":1},{"u":41,"k":33,"d":0.82},{"u":43,"k":33,"d":1},{"u":45,"k":33,"d":1},{"u":47,"k":33,"d":1},{"u":49,"k":33,"d":1},{"u":51,"k":33,"d":0.25},{"u":53,"k":33,"d":0.3},{"u":55,"k":33,"d":1},{"u":57,"k":33,"d":0.72},{"u":59,"k":33,"d":0.87},{"u":61,"k":33,"d":0.95},{"u":63,"k":33,"d":0.7},{"u":65,"k":33,"d":0.55},{"u":67,"k":33,"d":1},{"u":69,"k":33,"d":1},{"u":71,"k":33,"d":1},{"u":73,"k":33,"d":0.05},{"u":75,"k":33,"d":1},{"u":77,"k":33,"d":1},
{"u":34,"k":34,"d":1},{"u":36,"k":34,"d":1},{"u":38,"k":34,"d":1},{"u":40,"k":34,"d":1},{"u":42,"k":34,"d":1},{"u":44,"k":34,"d":0.85},{"u":46,"k":34,"d":0.42},{"u":48,"k":34,"d":1},{"u":50,"k":34,"d":0.9},{"u":52,"k":34,"d":0.2},{"u":54,"k":34,"d":1},{"u":56,"k":34,"d":0.3},{"u":58,"k":34,"d":0.87},{"u":60,"k":34,"d":0.25},{"u":62,"k":34,"d":0.25},{"u":64,"k":34,"d":0.55},{"u":66,"k":34,"d":1},{"u":68,"k":34,"d":0.3},{"u":70,"k":34,"d":0.62},{"u":72,"k":34,"d":0.65},{"u":74,"k":34,"d":1},{"u":76,"k":34,"d":1},
{"u":35,"k":35,"d":1},{"u":37,"k":35,"d":1},{"u":39,"k":35,"d":1},{"u":41,"k":35,"d":1},{"u":43,"k":35,"d":0.85},{"u":45,"k":35,"d":1},{"u":47,"k":35,"d":0.42},{"u":49,"k":35,"d":0.92},{"u":51,"k":35,"d":1},{"u":53,"k":35,"d":1},{"u":55,"k":35,"d":0.3},{"u":57,"k":35,"d":0.87},{"u":59,"k":35,"d":0.22},{"u":61,"k":35,"d":0.18},{"u":63,"k":35,"d":0.77},{"u":65,"k":35,"d":1},{"u":67,"k":35,"d":0.15},{"u":69,"k":35,"d":0.2},{"u":71,"k":35,"d":0.45},{"u":73,"k":35,"d":1},{"u":75,"k":35,"d":1},
{"u":36,"k":36,"d":0.93},{"u":38,"k":36,"d":1},{"u":40,"k":36,"d":1},{"u":42,"k":36,"d":0.92},{"u":44,"k":36,"d":1},{"u":46,"k":36,"d":1},{"u":48,"k":36,"d":0.38},{"u":50,"k":36,"d":1},{"u":52,"k":36,"d":1},{"u":54,"k":36,"d":0.62},{"u":56,"k":36,"d":0.85},{"u":58,"k":36,"d":0.45},{"u":60,"k":36,"d":0.1},{"u":62,"k":36,"d":0.12},{"u":64,"k":36,"d":1},{"u":66,"k":36,"d":0.1},{"u":68,"k":36,"d":1},{"u":70,"k":36,"d":0.35},{"u":72,"k":36,"d":1},{"u":74,"k":36,"d":0.87},
{"u":37,"k":37,"d":0.93},{"u":39,"k":37,"d":1},{"u":41,"k":37,"d":1},{"u":43,"k":37,"d":1},{"u":45,"k":37,"d":1},{"u":47,"k":37,"d":0.7},{"u":49,"k":37,"d":0.2},{"u":51,"k":37,"d":1},{"u":53,"k":37,"d":0.27},{"u":55,"k":37,"d":0.93},{"u":57,"k":37,"d":0.02},{"u":59,"k":37,"d":0.2},{"u":61,"k":37,"d":0.15},{"u":63,"k":37,"d":1},{"u":65,"k":37,"d":0.1},{"u":67,"k":37,"d":1},{"u":69,"k":37,"d":0.7},{"u":71,"k":37,"d":1},{"u":73,"k":37,"d":1},
{"u":38,"k":38,"d":1},{"u":40,"k":38,"d":1},{"u":42,"k":38,"d":0.42},{"u":44,"k":38,"d":1},{"u":46,"k":38,"d":0.7},{"u":48,"k":38,"d":1},{"u":50,"k":38,"d":1},{"u":52,"k":38,"d":0.87},{"u":54,"k":38,"d":0.93},{"u":56,"k":38,"d":0.92},{"u":58,"k":38,"d":0.42},{"u":60,"k":38,"d":0.42},{"u":62,"k":38,"d":1},{"u":64,"k":38,"d":0.62},{"u":66,"k":38,"d":1},{"u":68,"k":38,"d":0.7},{"u":70,"k":38,"d":1},{"u":72,"k":38,"d":1},
{"u":39,"k":39,"d":0.92},{"u":41,"k":39,"d":0.42},{"u":43,"k":39,"d":0.42},{"u":45,"k":39,"d":0.38},{"u":47,"k":39,"d":1},{"u":49,"k":39,"d":1},{"u":51,"k":39,"d":0.22},{"u":53,"k":39,"d":0.87},{"u":55,"k":39,"d":0.92},{"u":57,"k":39,"d":0.72},{"u":59,"k":39,"d":0.25},{"u":61,"k":39,"d":1},{"u":63,"k":39,"d":0.62},{"u":65,"k":39,"d":0.92},{"u":67,"k":39,"d":0.87},{"u":69,"k":39,"d":1},{"u":71,"k":39,"d":0.85},
{"u":40,"k":40,"d":0.42},{"u":42,"k":40,"d":0.42},{"u":44,"k":40,"d":0.4},{"u":46,"k":40,"d":0.25},{"u":48,"k":40,"d":1},{"u":50,"k":40,"d":0.65},{"u":52,"k":40,"d":0.85},{"u":54,"k":40,"d":0.97},{"u":56,"k":40,"d":0.2},{"u":58,"k":40,"d":0.52},{"u":60,"k":40,"d":1},{"u":62,"k":40,"d":0.25},{"u":64,"k":40,"d":0.92},{"u":66,"k":40,"d":0.77},{"u":68,"k":40,"d":1},{"u":70,"k":40,"d":0.87},
{"u":41,"k":41,"d":0.42},{"u":43,"k":41,"d":0.4},{"u":45,"k":41,"d":0.25},{"u":47,"k":41,"d":1},{"u":49,"k":41,"d":0.65},{"u":51,"k":41,"d":0.85},{"u":53,"k":41,"d":0.47},{"u":55,"k":41,"d":0.82},{"u":57,"k":41,"d":0.85},{"u":59,"k":41,"d":1},{"u":61,"k":41,"d":1},{"u":63,"k":41,"d":0.12},{"u":65,"k":41,"d":0.77},{"u":67,"k":41,"d":1},{"u":69,"k":41,"d":0.85},
{"u":42,"k":42,"d":0.45},{"u":44,"k":42,"d":0.25},{"u":46,"k":42,"d":1},{"u":48,"k":42,"d":0.25},{"u":50,"k":42,"d":0.85},{"u":52,"k":42,"d":1},{"u":54,"k":42,"d":0.22},{"u":56,"k":42,"d":0.87},{"u":58,"k":42,"d":1},{"u":60,"k":42,"d":0.08},{"u":62,"k":42,"d":0.62},{"u":64,"k":42,"d":0.42},{"u":66,"k":42,"d":1},{"u":68,"k":42,"d":1},
{"u":43,"k":43,"d":0.25},{"u":45,"k":43,"d":1},{"u":47,"k":43,"d":0.25},{"u":49,"k":43,"d":0.92},{"u":51,"k":43,"d":1},{"u":53,"k":43,"d":0.62},{"u":55,"k":43,"d":0.42},{"u":57,"k":43,"d":1},{"u":59,"k":43,"d":0.08},{"u":61,"k":43,"d":1},{"u":63,"k":43,"d":0.38},{"u":65,"k":43,"d":1},{"u":67,"k":43,"d":1},
{"u":44,"k":44,"d":1},{"u":46,"k":44,"d":0.25},{"u":48,"k":44,"d":0.85},{"u":50,"k":44,"d":0.93},{"u":52,"k":44,"d":0.62},{"u":54,"k":44,"d":0.77},{"u":56,"k":44,"d":1},{"u":58,"k":44,"d":0.47},{"u":60,"k":44,"d":1},{"u":62,"k":44,"d":0.68},{"u":64,"k":44,"d":1},{"u":66,"k":44,"d":1},
{"u":45,"k":45,"d":0.25},{"u":47,"k":45,"d":0.85},{"u":49,"k":45,"d":0.47},{"u":51,"k":45,"d":0.75},{"u":53,"k":45,"d":0.77},{"u":55,"k":45,"d":1},{"u":57,"k":45,"d":0.3},{"u":59,"k":45,"d":1},{"u":61,"k":45,"d":0.87},{"u":63,"k":45,"d":1},{"u":65,"k":45,"d":1},
{"u":46,"k":46,"d":0.77},{"u":48,"k":46,"d":0.47},{"u":50,"k":46,"d":0.2},{"u":52,"k":46,"d":0.55},{"u":54,"k":46,"d":1},{"u":56,"k":46,"d":0.77},{"u":58,"k":46,"d":0.15},{"u":60,"k":46,"d":0.93},{"u":62,"k":46,"d":1},{"u":64,"k":46,"d":0.87},
{"u":47,"k":47,"d":0.45},{"u":49,"k":47,"d":0.2},{"u":51,"k":47,"d":0.4},{"u":53,"k":47,"d":1},{"u":55,"k":47,"d":0.77},{"u":57,"k":47,"d":1},{"u":59,"k":47,"d":0.4},{"u":61,"k":47,"d":1},{"u":63,"k":47,"d":0.93},
{"u":48,"k":48,"d":0.28},{"u":50,"k":48,"d":0.42},{"u":52,"k":48,"d":1},{"u":54,"k":48,"d":0.08},{"u":56,"k":48,"d":1},{"u":58,"k":48,"d":0.58},{"u":60,"k":48,"d":1},{"u":62,"k":48,"d":0.62},
{"u":49,"k":49,"d":0.38},{"u":51,"k":49,"d":1},{"u":53,"k":49,"d":0.2},{"u":55,"k":49,"d":1},{"u":57,"k":49,"d":0.58},{"u":59,"k":49,"d":1},{"u":61,"k":49,"d":1},
{"u":50,"k":50,"d":1},{"u":52,"k":50,"d":0.22},{"u":54,"k":50,"d":0.15},{"u":56,"k":50,"d":0.7},{"u":58,"k":50,"d":1},{"u":60,"k":50,"d":1},
{"u":51,"k":51,"d":0.1},{"u":53,"k":51,"d":0.15},{"u":55,"k":51,"d":0.3},{"u":57,"k":51,"d":1},{"u":59,"k":51,"d":1},
{"u":52,"k":52,"d":0.15},{"u":54,"k":52,"d":0.3},{"u":56,"k":52,"d":1},{"u":58,"k":52,"d":0.87},
{"u":53,"k":53,"d":0.3},{"u":55,"k":53,"d":1},{"u":57,"k":53,"d":1},
{"u":54,"k":54,"d":1},{"u":56,"k":54,"d":1},
{"u":55,"k":55,"d":1}],
"blocks":[{"b":1,"o":1,"u":0,"k":1},{"b":1,"o":2,"u":12,"k":1},{"b":1,"o":3,"u":6,"k":7},{"b":1,"o":4,"u":0,"k":1},{"b":2,"o":1,"u":16,"k":1},{"b":2,"o":2,"u":82,"k":1},{"b":2,"o":3,"u":49,"k":34},{"b":2,"o":4,"u":16,"k":1},{"b":3,"o":1,"u":84,"k":1},{"b":3,"o":2,"u":86,"k":1},{"b":3,"o":3,"u":85,"k":2},{"b":3,"o":4,"u":84,"k":1},{"b":4,"o":1,"u":90,"k":1},{"b":4,"o":2,"u":92,"k":1},{"b":4,"o":3,"u":91,"k":2},{"b":4,"o":4,"u":90,"k":1},{"b":5,"o":1,"u":98,"k":1},{"b":5,"o":2,"u":100,"k":1},{"b":5,"o":3,"u":99,"k":2},{"b":5,"o":4,"u":98,"k":1},{"b":6,"o":1,"u":104,"k":1},{"b":6,"o":2,"u":106,"k":1},{"b":6,"o":3,"u":105,"k":2},{"b":6,"o":4,"u":104,"k":1}],
"key":[{"a":74.65,"b":75.59,"d":0},{"a":75.59,"b":76.52,"d":0.025},{"a":76.52,"b":77.46,"d":0.05},{"a":77.46,"b":78.39,"d":0.075},{"a":78.39,"b":79.33,"d":0.1},{"a":79.33,"b":80.27,"d":0.125},{"a":80.27,"b":81.2,"d":0.15},{"a":81.2,"b":82.14,"d":0.175},{"a":82.14,"b":83.07,"d":0.2},{"a":83.07,"b":84.01,"d":0.225},{"a":84.01,"b":84.95,"d":0.25},{"a":84.95,"b":85.88,"d":0.275},{"a":85.88,"b":86.82,"d":0.3},{"a":86.82,"b":87.75,"d":0.325},{"a":87.75,"b":88.69,"d":0.35},{"a":88.69,"b":89.63,"d":0.375},{"a":89.63,"b":90.56,"d":0.4},{"a":90.56,"b":91.5,"d":0.425},{"a":91.5,"b":92.43,"d":0.45},{"a":92.43,"b":93.37,"d":0.475},{"a":93.37,"b":94.31,"d":0.5},{"a":94.31,"b":95.24,"d":0.525},{"a":95.24,"b":96.18,"d":0.55},{"a":96.18,"b":97.11,"d":0.575},{"a":97.11,"b":98.05,"d":0.6},{"a":98.05,"b":98.99,"d":0.625},{"a":98.99,"b":99.92,"d":0.65},{"a":99.92,"b":100.86,"d":0.675},{"a":100.86,"b":101.79,"d":0.7},{"a":101.79,"b":102.73,"d":0.725},{"a":102.73,"b":103.67,"d":0.75},{"a":103.67,"b":104.6,"d":0.775},{"a":104.6,"b":105.54,"d":0.8},{"a":105.54,"b":106.47,"d":0.825},{"a":106.47,"b":107.41,"d":0.85},{"a":107.41,"b":108.35,"d":0.875},{"a":108.35,"b":109.28,"d":0.9},{"a":109.28,"b":110.22,"d":0.925},{"a":110.22,"b":111.15,"d":0.95},{"a":111.15,"b":112.09,"d":0.975},{"a":112.09,"b":113.03,"d":1}]},
"layer":[
{"data":{"values":[{"a":0,"b":110}]},"mark":{"type":"rect","color":"#A6CEE3"},"encoding":{"x":{"field":"a","type":"quantitative","scale":{"domain":[-11.19,117.64]},"axis":null},"x2":{"field":"b"},"y":{"datum":-13,"type":"quantitative","scale":{"domain":[-32.613,62.645],"reverse":true},"axis":null},"y2":{"datum":-8.53}}},
{"data":{"name":"snps"},"mark":{"type":"rule","strokeWidth":2.8},"encoding":{"x":{"field":"p","type":"quantitative","scale":{"domain":[-11.19,117.64]},"axis":null},"y":{"datum":-13,"type":"quantitative","scale":{"domain":[-32.613,62.645],"reverse":true},"axis":null},"y2":{"datum":-8.53},"color":{"field":"g","type":"nominal","legend":null,"scale":{"domain":["p","g"],"range":["#E08CC0","#808080"]}}}},
{"data":{"name":"snps"},"mark":{"type":"rule","strokeWidth":2.8,"color":"#008000"},"encoding":{"x":{"field":"p","type":"quantitative","scale":{"domain":[-11.19,117.64]},"axis":null},"x2":{"field":"s"},"y":{"datum":-8.53,"type":"quantitative","scale":{"domain":[-32.613,62.645],"reverse":true},"axis":null},"y2":{"datum":-1}}},
{"data":{"name":"cells"},"mark":{"type":"point","shape":"diamond","filled":true,"size":3844,"opacity":1,"strokeWidth":1.2},"encoding":{"x":{"field":"u","type":"quantitative","scale":{"domain":[-11.19,117.64]},"axis":null},"y":{"field":"k","type":"quantitative","scale":{"domain":[-32.613,62.645],"reverse":true},"axis":null},
"fill":{"field":"d","type":"quantitative","legend":null,"scale":{"domain":[0,0.1,0.2,0.3,0.4,0.5,0.525,0.55,0.6,0.65,0.7,0.75,0.8,0.85,0.9,0.95,1],"range":["#FFFFFF","#FBFADC","#F8F5B8","#F5F092","#F3EE72","#F0EB4A","#EFDD48","#F3D345","#F3B83C","#F7A432","#F88E2B","#F97927","#FC5F20","#FE4816","#FF3010","#FF1808","#FF0000"],"interpolate":"rgb"}},
"stroke":{"field":"d","type":"quantitative","legend":null,"scale":{"domain":[0,0.1,0.2,0.3,0.4,0.5,0.525,0.55,0.6,0.65,0.7,0.75,0.8,0.85,0.9,0.95,1],"range":["#FFFFFF","#FBFADC","#F8F5B8","#F5F092","#F3EE72","#F0EB4A","#EFDD48","#F3D345","#F3B83C","#F7A432","#F88E2B","#F97927","#FC5F20","#FE4816","#FF3010","#FF1808","#FF0000"],"interpolate":"rgb"}}}},
{"data":{"name":"blocks"},"mark":{"type":"line","color":"black","strokeWidth":3,"strokeJoin":"miter"},"encoding":{"x":{"field":"u","type":"quantitative","scale":{"domain":[-11.19,117.64]},"axis":null},"y":{"field":"k","type":"quantitative","scale":{"domain":[-32.613,62.645],"reverse":true},"axis":null},"detail":{"field":"b"},"order":{"field":"o"}}},
{"data":{"name":"key"},"mark":{"type":"rect","strokeWidth":0.5},"encoding":{"x":{"field":"a","type":"quantitative","scale":{"domain":[-11.19,117.64]},"axis":null},"x2":{"field":"b"},"y":{"datum":54.19,"type":"quantitative","scale":{"domain":[-32.613,62.645],"reverse":true},"axis":null},"y2":{"datum":57.1},
"fill":{"field":"d","type":"quantitative","legend":null,"scale":{"domain":[0,0.1,0.2,0.3,0.4,0.5,0.525,0.55,0.6,0.65,0.7,0.75,0.8,0.85,0.9,0.95,1],"range":["#FFFFFF","#FBFADC","#F8F5B8","#F5F092","#F3EE72","#F0EB4A","#EFDD48","#F3D345","#F3B83C","#F7A432","#F88E2B","#F97927","#FC5F20","#FE4816","#FF3010","#FF1808","#FF0000"],"interpolate":"rgb"}},
"stroke":{"field":"d","type":"quantitative","legend":null,"scale":{"domain":[0,0.1,0.2,0.3,0.4,0.5,0.525,0.55,0.6,0.65,0.7,0.75,0.8,0.85,0.9,0.95,1],"range":["#FFFFFF","#FBFADC","#F8F5B8","#F5F092","#F3EE72","#F0EB4A","#EFDD48","#F3D345","#F3B83C","#F7A432","#F88E2B","#F97927","#FC5F20","#FE4816","#FF3010","#FF1808","#FF0000"],"interpolate":"rgb"}}}},
{"data":{"values":[{"a":74.65,"b":113.03}]},"mark":{"type":"rect","fill":null,"fillOpacity":0,"stroke":"black","strokeWidth":3},"encoding":{"x":{"field":"a","type":"quantitative","scale":{"domain":[-11.19,117.64]},"axis":null},"x2":{"field":"b"},"y":{"datum":54.19,"type":"quantitative","scale":{"domain":[-32.613,62.645],"reverse":true},"axis":null},"y2":{"datum":57.1}}},
{"data":{"values":[{"t":"Start:53.264","u":0,"k":-14.41},{"t":"chr12 Region:34.91 (kb)","u":55,"k":-14.41},{"t":"End:53.299 (Mb)","u":110,"k":-14.41}]},"mark":{"type":"text","font":"Liberation Sans","fontSize":43.5,"align":"center","baseline":"alphabetic","color":"black"},"encoding":{"x":{"field":"u","type":"quantitative","scale":{"domain":[-11.19,117.64]},"axis":null},"y":{"field":"k","type":"quantitative","scale":{"domain":[-32.613,62.645],"reverse":true},"axis":null},"text":{"field":"t"}}},
{"data":{"values":[{"t":"D' Color Key","u":93.39,"k":51.42},{"t":"0.0","u":74.75,"k":59.81},{"t":"1.0","u":112.16,"k":59.81}]},"mark":{"type":"text","font":"Liberation Sans","fontSize":86,"align":"center","baseline":"alphabetic","color":"black"},"encoding":{"x":{"field":"u","type":"quantitative","scale":{"domain":[-11.19,117.64]},"axis":null},"y":{"field":"k","type":"quantitative","scale":{"domain":[-32.613,62.645],"reverse":true},"axis":null},"text":{"field":"t"}}}
],
"resolve":{"scale":{"color":"independent"}}}
